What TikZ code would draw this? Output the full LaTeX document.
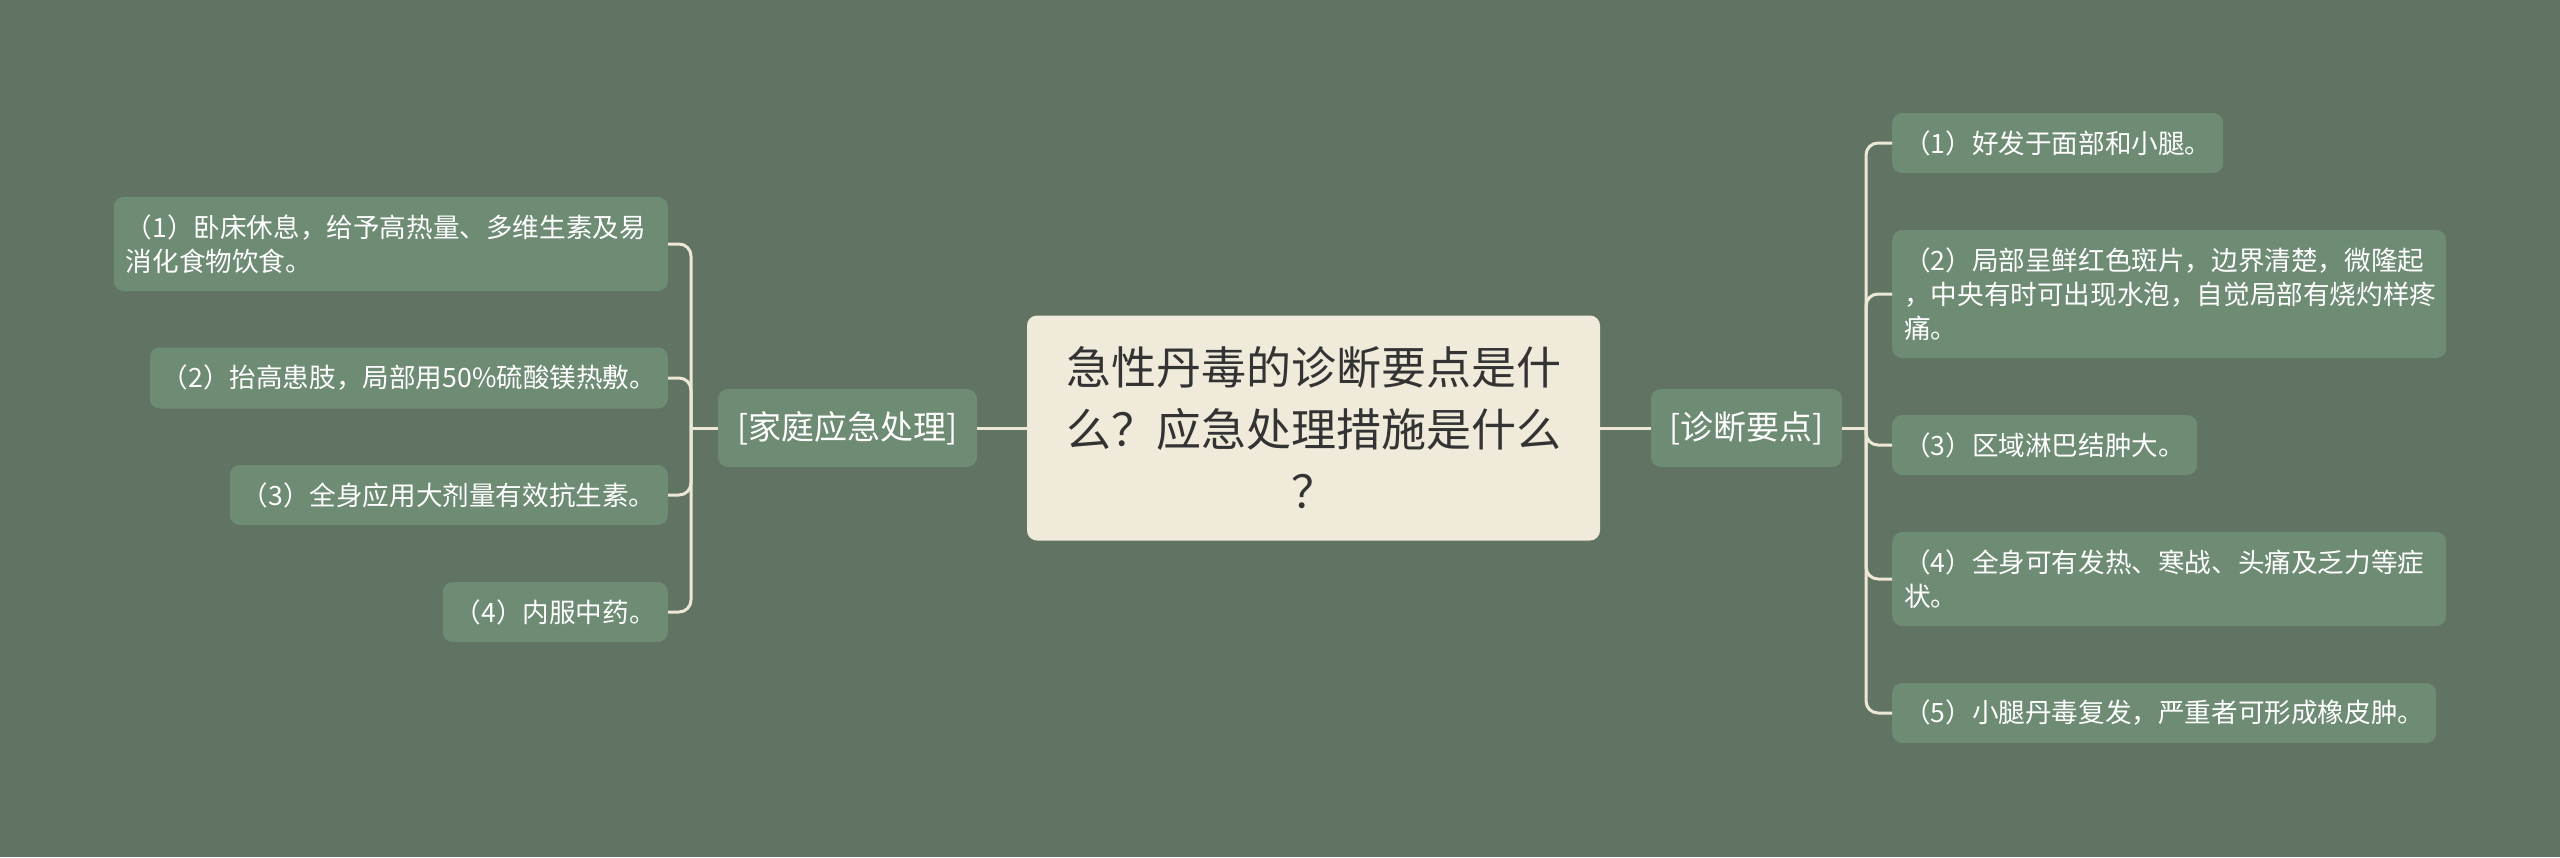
\documentclass[tikz,border=0pt]{standalone}
\usepackage{fontspec}
\setmainfont{Noto Sans CJK SC}
\definecolor{bgc}{HTML}{617362}
\definecolor{leafc}{HTML}{6E8B74}
\definecolor{rootc}{HTML}{EFEAD9}
\definecolor{linec}{HTML}{EDE8D5}
\definecolor{roottext}{HTML}{333333}
\tikzset{
  leaf/.style={rectangle, rounded corners=10pt, fill=leafc, text=white,
    font=\fontsize{26.6pt}{34pt}\selectfont, align=left, inner xsep=12pt, inner ysep=0pt},
  branch/.style={rectangle, rounded corners=10pt, fill=leafc, text=white,
    font=\fontsize{33pt}{40pt}\selectfont, align=center, inner xsep=0pt, inner ysep=0pt,
    minimum height=78pt},
  rootbox/.style={rectangle, rounded corners=10pt, fill=rootc, text=roottext,
    font=\fontsize{45pt}{62pt}\selectfont, align=center, inner xsep=16pt, inner ysep=0pt,
    text width=541pt, minimum height=225pt},
  conn/.style={draw=linec, line width=3pt, rounded corners=12pt},
}
\begin{document}
\begin{tikzpicture}[x=1pt,y=-1pt]
\useasboundingbox (0,0) rectangle (2560,857);
\fill[bgc] (0,0) rectangle (2560,857);

% root and branches
\node[rootbox] (root) at (1313.5,428) {急性丹毒的诊断要点是什\\么？应急处理措施是什么\\？};
\node[branch, minimum width=259pt] (fam) at (847.5,428) {[家庭应急处理]};
\node[branch, minimum width=191pt] (diag) at (1746.5,428) {[诊断要点]};

% left leaves
\node[leaf, anchor=east, text width=530pt, minimum height=94pt] (l1) at (668,244)
  {（1）卧床休息，给予高热量、多维生素及易\\消化食物饮食。};
\node[leaf, anchor=east, text width=494pt, minimum height=61pt] (l2) at (668,378)
  {（2）抬高患肢，局部用50\%硫酸镁热敷。};
\node[leaf, anchor=east, text width=414pt, minimum height=60pt] (l3) at (668,495)
  {（3）全身应用大剂量有效抗生素。};
\node[leaf, anchor=east, text width=201pt, minimum height=60pt] (l4) at (668,612)
  {（4）内服中药。};

% right leaves
\node[leaf, anchor=west, text width=307pt, minimum height=60pt] (r1) at (1892,143)
  {（1）好发于面部和小腿。};
\node[leaf, anchor=west, text width=530pt, minimum height=128pt] (r2) at (1892,294)
  {（2）局部呈鲜红色斑片，边界清楚，微隆起\\，中央有时可出现水泡，自觉局部有烧灼样疼\\痛。};
\node[leaf, anchor=west, text width=281pt, minimum height=60pt] (r3) at (1892,445)
  {（3）区域淋巴结肿大。};
\node[leaf, anchor=west, text width=530pt, minimum height=94pt] (r4) at (1892,579)
  {（4）全身可有发热、寒战、头痛及乏力等症\\状。};
\node[leaf, anchor=west, text width=520pt, minimum height=60pt] (r5) at (1892,713)
  {（5）小腿丹毒复发，严重者可形成橡皮肿。};

% connectors
\coordinate (lj) at (691,428);
\coordinate (rj) at (1866,428);
\draw[conn] (root.west) -- (fam.east);
\draw[conn] (root.east) -- (diag.west);
\draw[conn] (fam.west) -- (lj);
\draw[conn] (diag.east) -- (rj);
\foreach \c in {l1,l2,l3,l4} { \draw[conn] (lj) |- (\c.east); }
\foreach \c in {r1,r2,r3,r4,r5} { \draw[conn] (rj) |- (\c.west); }
\end{tikzpicture}
\end{document}
